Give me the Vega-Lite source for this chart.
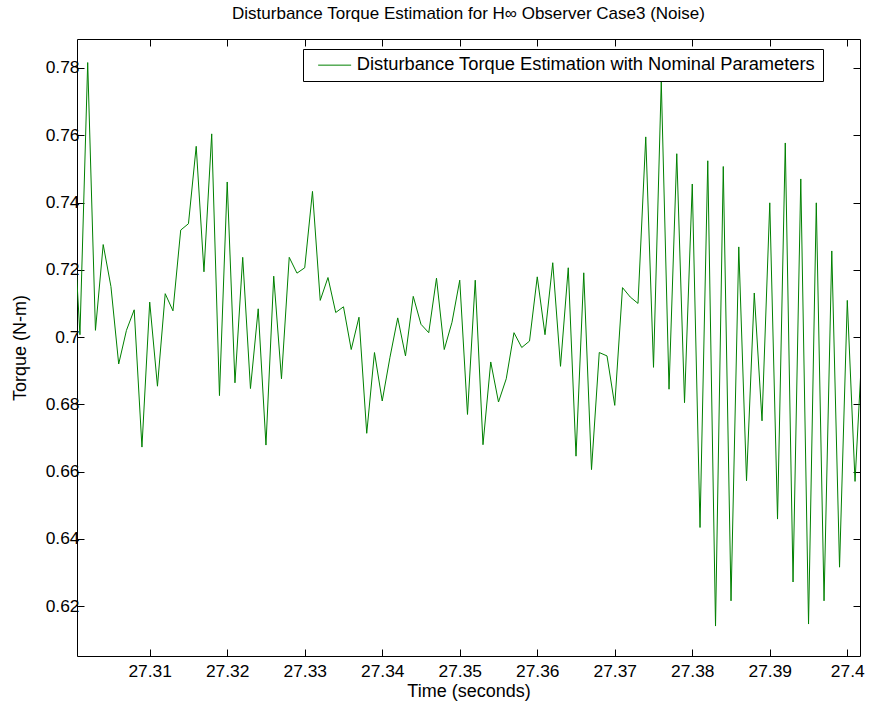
{
  "$schema": "https://vega.github.io/schema/vega-lite/v6.json",
  "width": 783,
  "height": 617,
  "autosize": "none",
  "padding": {"left": 77, "top": 39, "right": 9, "bottom": 52},
  "background": "white",
  "config": {
    "view": {"stroke": null},
    "font": "Liberation Sans",
    "axis": {"grid": false, "domainColor": "#000", "tickColor": "#000", "labelColor": "#000", "titleColor": "#000", "labelFlush": false, "labelOverlap": false}
  },
  "title": {
    "text": "Disturbance Torque Estimation for H∞ Observer Case3 (Noise)",
    "font": "Liberation Sans",
    "fontSize": 17,
    "fontWeight": "normal",
    "color": "#000",
    "anchor": "middle",
    "baseline": "alphabetic",
    "offset": 3
  },
  "data": {
    "values": [
      {"t": 27.300, "v": 0.742}, {"t": 27.301, "v": 0.7007}, {"t": 27.302, "v": 0.7816}, {"t": 27.303, "v": 0.702},
      {"t": 27.304, "v": 0.7275}, {"t": 27.305, "v": 0.715}, {"t": 27.306, "v": 0.692}, {"t": 27.307, "v": 0.702},
      {"t": 27.308, "v": 0.7081}, {"t": 27.309, "v": 0.6673}, {"t": 27.310, "v": 0.7104}, {"t": 27.311, "v": 0.6854},
      {"t": 27.312, "v": 0.7129}, {"t": 27.313, "v": 0.7078}, {"t": 27.314, "v": 0.7318}, {"t": 27.315, "v": 0.7337},
      {"t": 27.316, "v": 0.7567}, {"t": 27.317, "v": 0.7194}, {"t": 27.318, "v": 0.7604}, {"t": 27.319, "v": 0.6826},
      {"t": 27.320, "v": 0.7461}, {"t": 27.321, "v": 0.6864}, {"t": 27.322, "v": 0.7237}, {"t": 27.323, "v": 0.6847},
      {"t": 27.324, "v": 0.7084}, {"t": 27.325, "v": 0.6679}, {"t": 27.326, "v": 0.7181}, {"t": 27.327, "v": 0.6876},
      {"t": 27.328, "v": 0.7237}, {"t": 27.329, "v": 0.719}, {"t": 27.330, "v": 0.7206}, {"t": 27.331, "v": 0.7433},
      {"t": 27.332, "v": 0.7109}, {"t": 27.333, "v": 0.7177}, {"t": 27.334, "v": 0.7073}, {"t": 27.335, "v": 0.709},
      {"t": 27.336, "v": 0.6963}, {"t": 27.337, "v": 0.7059}, {"t": 27.338, "v": 0.6714}, {"t": 27.339, "v": 0.6954},
      {"t": 27.340, "v": 0.681}, {"t": 27.341, "v": 0.694}, {"t": 27.342, "v": 0.7057}, {"t": 27.343, "v": 0.6944},
      {"t": 27.344, "v": 0.7121}, {"t": 27.345, "v": 0.7038}, {"t": 27.346, "v": 0.7013}, {"t": 27.347, "v": 0.7175},
      {"t": 27.348, "v": 0.6963}, {"t": 27.349, "v": 0.7044}, {"t": 27.350, "v": 0.7169}, {"t": 27.351, "v": 0.677},
      {"t": 27.352, "v": 0.7169}, {"t": 27.353, "v": 0.668}, {"t": 27.354, "v": 0.6926}, {"t": 27.355, "v": 0.6807},
      {"t": 27.356, "v": 0.6876}, {"t": 27.357, "v": 0.7013}, {"t": 27.358, "v": 0.6969}, {"t": 27.359, "v": 0.6988},
      {"t": 27.360, "v": 0.7179}, {"t": 27.361, "v": 0.7007}, {"t": 27.362, "v": 0.7221}, {"t": 27.363, "v": 0.6913},
      {"t": 27.364, "v": 0.7206}, {"t": 27.365, "v": 0.6646}, {"t": 27.366, "v": 0.7191}, {"t": 27.367, "v": 0.6606},
      {"t": 27.368, "v": 0.6954}, {"t": 27.369, "v": 0.6944}, {"t": 27.370, "v": 0.6797}, {"t": 27.371, "v": 0.7147},
      {"t": 27.372, "v": 0.7119}, {"t": 27.373, "v": 0.71}, {"t": 27.374, "v": 0.7595}, {"t": 27.375, "v": 0.691},
      {"t": 27.376, "v": 0.776}, {"t": 27.377, "v": 0.6845}, {"t": 27.378, "v": 0.7545}, {"t": 27.379, "v": 0.6805},
      {"t": 27.380, "v": 0.7455}, {"t": 27.381, "v": 0.6434}, {"t": 27.382, "v": 0.7524}, {"t": 27.383, "v": 0.6141},
      {"t": 27.384, "v": 0.7507}, {"t": 27.385, "v": 0.6216}, {"t": 27.386, "v": 0.7268}, {"t": 27.387, "v": 0.6573},
      {"t": 27.388, "v": 0.7131}, {"t": 27.389, "v": 0.6751}, {"t": 27.390, "v": 0.7399}, {"t": 27.391, "v": 0.6459},
      {"t": 27.392, "v": 0.7577}, {"t": 27.393, "v": 0.6272}, {"t": 27.394, "v": 0.747}, {"t": 27.395, "v": 0.6147},
      {"t": 27.396, "v": 0.7399}, {"t": 27.397, "v": 0.6216}, {"t": 27.398, "v": 0.7256}, {"t": 27.399, "v": 0.6316},
      {"t": 27.400, "v": 0.7109}, {"t": 27.401, "v": 0.6571}, {"t": 27.402, "v": 0.701}
    ]
  },
  "layer": [
    {
      "mark": {"type": "line", "strokeWidth": 1, "clip": true},
      "encoding": {
        "x": {
          "field": "t", "type": "quantitative",
          "scale": {"domain": [27.30062, 27.40164], "nice": false, "zero": false},
          "axis": {
            "orient": "bottom",
            "values": [27.31, 27.32, 27.33, 27.34, 27.35, 27.36, 27.37, 27.38, 27.39, 27.4],
            "labelExpr": "format(datum.value, '.2~f')",
            "tickSize": -7,
            "labelPadding": 13,
            "labelFontSize": 17.4,
            "labelFont": "Liberation Sans",
            "title": "Time (seconds)",
            "titleFont": "Liberation Sans",
            "titleFontSize": 18,
            "titleFontWeight": "normal",
            "titleAlign": "center",
            "titleBaseline": "alphabetic",
            "titleX": 391.5,
            "titleY": 40.5
          }
        },
        "y": {
          "field": "v", "type": "quantitative",
          "scale": {"domain": [0.6052, 0.7886], "nice": false, "zero": false},
          "axis": {
            "orient": "left",
            "values": [0.62, 0.64, 0.66, 0.68, 0.7, 0.72, 0.74, 0.76, 0.78],
            "labelExpr": "format(datum.value, '.2~f')",
            "tickSize": -7,
            "labelPadding": 5,
            "labelFontSize": 17.4,
            "labelFont": "Liberation Sans",
            "title": "Torque (N-m)",
            "titleFont": "Liberation Sans",
            "titleFontSize": 18,
            "titleFontWeight": "normal",
            "titleAlign": "center",
            "titleBaseline": "middle",
            "titleAngle": -90,
            "titleX": -57,
            "titleY": 308.5
          }
        },
        "color": {
          "datum": "Disturbance Torque Estimation with Nominal Parameters",
          "type": "nominal",
          "scale": {"range": ["#008000"]},
          "legend": {
            "title": null,
            "orient": "none",
            "legendX": 226,
            "legendY": 10,
            "padding": 7,
            "strokeColor": "#000",
            "fillColor": "#fff",
            "symbolType": "M-2.75,0H2.75",
            "symbolSize": 144,
            "symbolStrokeWidth": 1,
            "symbolOffset": 15.5,
            "labelOffset": 13,
            "labelFont": "Liberation Sans",
            "labelFontSize": 18.3,
            "labelColor": "#000",
            "labelLimit": 0
          }
        }
      }
    },
    {
      "mark": {"type": "line", "opacity": 0},
      "encoding": {
        "x": {
          "field": "t", "type": "quantitative",
          "axis": {"orient": "top", "values": [27.31, 27.32, 27.33, 27.34, 27.35, 27.36, 27.37, 27.38, 27.39, 27.4], "labels": false, "tickSize": -7, "title": null}
        },
        "y": {
          "field": "v", "type": "quantitative",
          "axis": {"orient": "right", "values": [0.62, 0.64, 0.66, 0.68, 0.7, 0.72, 0.74, 0.76, 0.78], "labels": false, "tickSize": -7, "title": null}
        }
      }
    }
  ],
  "resolve": {"axis": {"x": "independent", "y": "independent"}}
}
